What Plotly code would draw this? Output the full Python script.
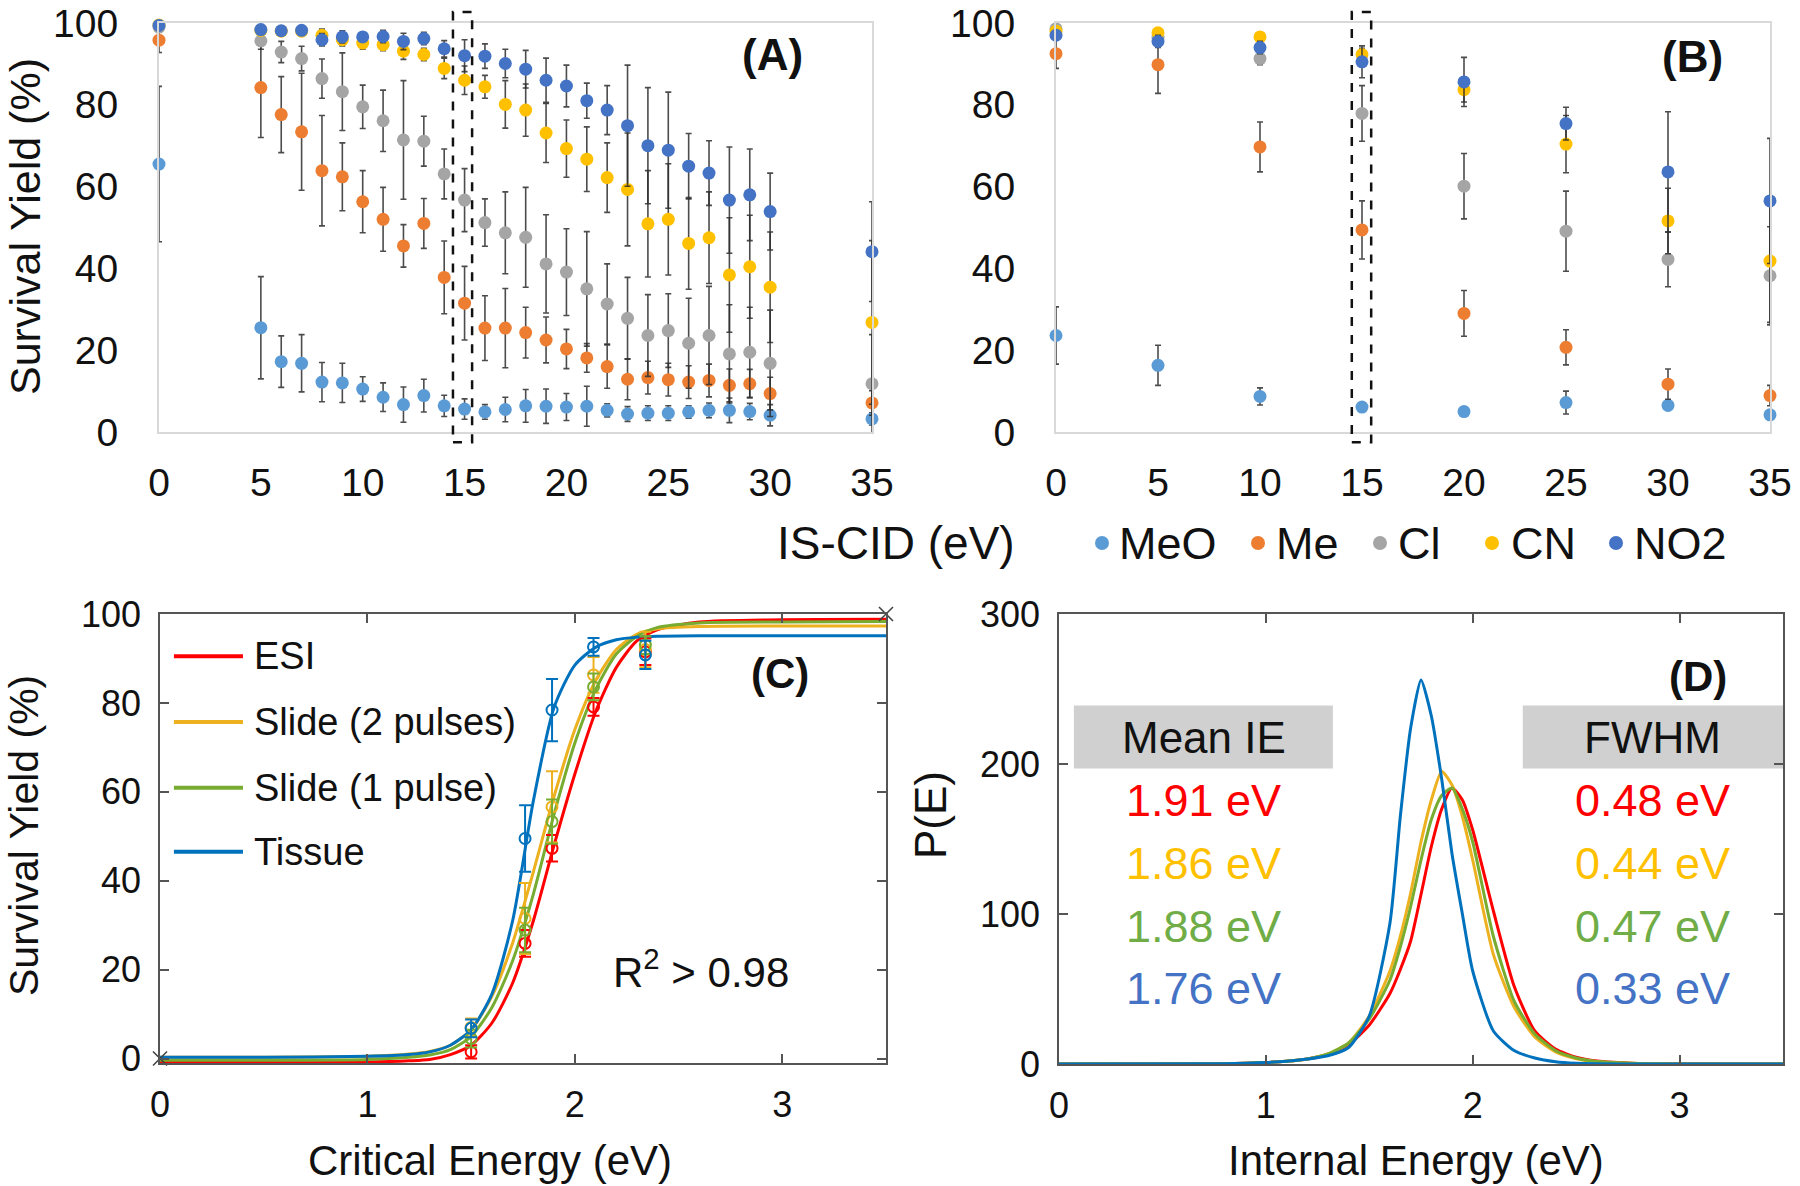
import plotly.graph_objects as go

# ---------------- Panel A data (IS-CID, survival yield %) ----------------
is_cid_a = [0, 5, 6, 7, 8, 9, 10, 11, 12, 13, 14, 15, 16, 17, 18, 19, 20,
            21, 22, 23, 24, 25, 26, 27, 28, 29, 30, 35]
meo_a = [65.5, 25.5, 17.2, 16.8, 12.2, 12.0, 10.5, 8.5, 6.7, 8.9, 6.4, 5.6, 4.9, 5.5, 6.4, 6.3, 6.1,
         6.3, 5.3, 4.4, 4.6, 4.6, 4.9, 5.3, 5.3, 5.0, 4.1, 3.2]
meo_a_err = [19, 12.5, 6.3, 7, 4.8, 4.8, 3, 3.5, 4.3, 4, 2.6, 2.5, 1.8, 3, 4, 4.2, 3.3,
             4.9, 1.6, 1.8, 1.8, 1.8, 1.5, 1.8, 3, 2, 2.6, 1.5]
me_a = [95.8, 84.2, 77.6, 73.4, 63.9, 62.4, 56.3, 52.0, 45.5, 51.0, 37.8, 31.5, 25.4, 25.4, 24.3, 22.5, 20.3,
        18.1, 16.0, 12.9, 13.3, 12.8, 12.2, 12.6, 11.4, 11.8, 9.4, 7.1]
me_a_err = [3, 12.2, 9.3, 14.3, 13.5, 8.3, 7.6, 7.8, 5.2, 6.1, 8.9, 9, 7.9, 9.7, 6.2, 5.6, 4.8,
            3.5, 5.3, 5, 4, 4, 4, 4, 4, 3.5, 4, 3]
cl_a = [99.0, 95.6, 92.9, 91.3, 86.4, 83.2, 79.5, 76.1, 71.4, 71.1, 63.1, 56.7, 51.2, 48.7, 47.6, 41.1, 39.1,
        35.0, 31.3, 27.8, 23.6, 24.8, 21.7, 23.6, 19.1, 19.5, 16.8, 11.8]
cl_a_err = [1, 2, 2.6, 3, 4.8, 9.5, 5.3, 7.5, 14.5, 6.1, 6.1, 7.7, 5.8, 10, 12.2, 12, 10.6,
            14, 9.8, 10, 10, 9, 11, 12, 12, 11, 13, 12]
cn_a = [99.5, 98.2, 98.0, 98.0, 97.0, 95.9, 95.1, 94.7, 93.1, 92.3, 88.9, 86.0, 84.4, 80.1, 78.7, 73.1, 69.3,
        66.7, 62.2, 59.3, 50.9, 52.0, 46.1, 47.5, 38.4, 40.4, 35.4, 26.8]
cn_a_err = [0.5, 1, 1, 1, 1.5, 1.5, 1.5, 1.5, 2, 1.5, 2.5, 3.5, 2.8, 5.8, 6.4, 7.2, 7,
            7.9, 8.5, 13.8, 13, 13.6, 11.2, 11.2, 14, 12.6, 13.5, 20]
no2_a = [99.4, 98.4, 98.1, 98.2, 95.9, 96.6, 96.6, 96.7, 95.5, 96.2, 93.7, 92.0, 91.9, 90.1, 88.7, 86.0, 84.6,
         81.0, 78.7, 74.9, 70.0, 68.9, 65.0, 63.3, 56.7, 58.0, 53.9, 44.1]
no2_a_err = [0.5, 1, 1, 1, 1.5, 1.5, 1, 1.5, 2, 1.5, 2, 3.9, 3, 3.5, 4.6, 5.4, 5.1,
             4.3, 6, 14.8, 14.2, 14.2, 8, 7.9, 13, 11.2, 9.4, 12.2]

# ---------------- Panel B data ----------------
is_cid_b = [0, 5, 10, 15, 20, 25, 30, 35]
meo_b = [23.6, 16.3, 8.7, 6.1, 5.0, 7.2, 6.5, 4.2]
meo_b_err = [7, 4.9, 2.1, 1, 0.5, 2.8, 1, 1]
me_b = [92.5, 89.8, 69.7, 49.4, 29.0, 20.7, 11.7, 8.9]
me_b_err = [3.6, 7, 6.1, 7.1, 5.6, 4.3, 3.7, 2.5]
cl_b = [98.6, 96.5, 91.3, 77.9, 60.1, 49.1, 42.2, 38.2]
cl_b_err = [1, 1.5, 1.5, 6.8, 8, 9.8, 6.7, 12]
cn_b = [98.0, 97.6, 96.6, 92.3, 83.7, 70.4, 51.6, 41.8]
cn_b_err = [1, 1, 1, 1.5, 3, 7, 8, 15]
no2_b = [97.0, 95.5, 94.0, 90.5, 85.6, 75.4, 63.6, 56.5]
no2_b_err = [1, 1.5, 1.5, 3.9, 6, 4, 14.7, 15.3]

series_ab = ["MeO", "Me", "Cl", "CN", "NO2"]
colors_ab = ["#5B9BD5", "#ED7D31", "#A5A5A5", "#FFC000", "#4472C4"]

# ---------------- Panel C data ----------------
crit_energy_pts = [1.50, 1.76, 1.89, 2.09, 2.34]
esi_pts = [1.5, 25.9, 47.3, 79.1, 91.5]
esi_err = [1.5, 3, 3, 2, 3]
slide2_pts = [7.0, 31.5, 56.6, 86.3, 92.0]
slide2_err = [2, 8, 8, 4, 4]
slide1_pts = [4.5, 28.9, 53.3, 83.6, 93.0]
slide1_err = [2, 5, 5, 3, 2]
tissue_pts = [6.8, 49.5, 78.4, 92.6, 90.8]
tissue_err = [2, 7.5, 7, 2, 3.2]

crit_energy_fit = [0, 0.5, 1.0, 1.2, 1.3, 1.4, 1.5, 1.6, 1.7, 1.8, 1.9, 2.0, 2.1, 2.2, 2.3, 2.4, 2.6, 3.0, 3.5]
esi_fit = [-0.9, -0.9, -0.8, -0.5, -0.2, 0.9, 3.0, 8.0, 17, 31, 48, 64, 78, 88, 94, 96.5, 98.2, 98.7, 98.8]
slide2_fit = [0.3, 0.3, 0.5, 1.0, 1.6, 3.0, 6.5, 14, 26, 42, 59, 74, 85, 92, 95.5, 96.7, 97.2, 97.3, 97.3]
slide1_fit = [-0.4, -0.4, -0.2, 0.3, 0.8, 2.0, 5.0, 11.5, 22, 37, 55, 71, 83, 91, 95, 97, 98, 98.2, 98.3]
tissue_fit = [0.3, 0.3, 0.5, 0.9, 1.5, 3.0, 6.5, 14.5, 31, 58, 79, 88.5, 92.5, 94.2, 94.8, 95, 95.1, 95.1, 95.1]
corner_x = [0, 3.5]
corner_y = [0, 100]

labels_c = ["ESI", "Slide (2 pulses)", "Slide (1 pulse)", "Tissue"]
colors_c = ["#FF0000", "#EDB120", "#77AC30", "#0072BD"]

# ---------------- Panel D data ----------------
internal_energy = [0, 0.8, 1.0, 1.1, 1.2, 1.3, 1.4, 1.5, 1.6, 1.65, 1.7, 1.75, 1.8, 1.85, 1.9, 1.95,
                   2.0, 2.1, 2.2, 2.3, 2.4, 2.5, 2.6, 2.8, 3.0, 3.5]
pe_esi = [0, 0.2, 1, 1.8, 3.3, 6.5, 13, 26, 47, 63, 82, 113, 145, 170, 184, 176,
          156, 102, 52, 22, 10, 4.5, 2, 0.4, 0.1, 0]
pe_slide2 = [0, 0.2, 1, 1.8, 3.3, 6.7, 14, 32, 62, 85, 114, 148, 176, 195, 186, 165,
             136, 73, 38, 18, 8, 3.5, 1.5, 0.3, 0, 0]
pe_slide1 = [0, 0.2, 1, 1.8, 3.3, 6.7, 14, 30, 56, 78, 105, 136, 163, 179, 184, 170,
             148, 85, 42, 20, 9, 4, 1.7, 0.3, 0, 0]
pe_tissue = [0, 0.2, 1, 1.8, 3.3, 5.5, 11, 32, 94, 165, 224, 256, 232, 190, 140, 100,
             62, 22, 9, 4, 1.5, 0.5, 0.2, 0, 0, 0]
mean_ie_labels = ["1.91 eV", "1.86 eV", "1.88 eV", "1.76 eV"]
fwhm_labels = ["0.48 eV", "0.44 eV", "0.47 eV", "0.33 eV"]
colors_d_text = ["#FF0000", "#FFC000", "#70AD47", "#4472C4"]
colors_d = ["#FF0000", "#EDB120", "#77AC30", "#0072BD"]

# ---------------- layout helpers ----------------
W, H = 1800, 1186
FONT = "Liberation Sans, Arial, Helvetica, sans-serif"


def dom_x(a, b):
    return [a / W, b / W]


def dom_y(top, bottom):
    return [1 - bottom / H, 1 - top / H]


fig = go.Figure()

# ---------------- Panels A & B ----------------
a_series = [(meo_a, meo_a_err), (me_a, me_a_err), (cl_a, cl_a_err), (cn_a, cn_a_err), (no2_a, no2_a_err)]
b_series = [(meo_b, meo_b_err), (me_b, me_b_err), (cl_b, cl_b_err), (cn_b, cn_b_err), (no2_b, no2_b_err)]
for (vals, err), name, col in zip(a_series, series_ab, colors_ab):
    fig.add_trace(go.Scatter(x=is_cid_a, y=vals, mode="markers", name=name, showlegend=False,
                             marker=dict(color=col, size=13),
                             error_y=dict(type="data", array=err, color="rgba(45,45,45,0.85)",
                                          thickness=1.6, width=3),
                             cliponaxis=False, xaxis="x", yaxis="y"))
for (vals, err), name, col in zip(b_series, series_ab, colors_ab):
    fig.add_trace(go.Scatter(x=is_cid_b, y=vals, mode="markers", name=name, showlegend=False,
                             marker=dict(color=col, size=13),
                             error_y=dict(type="data", array=err, color="rgba(45,45,45,0.85)",
                                          thickness=1.6, width=3),
                             cliponaxis=False, xaxis="x2", yaxis="y2"))

# ---------------- Panel C ----------------
c_fits = [esi_fit, slide2_fit, slide1_fit, tissue_fit]
c_pts = [(esi_pts, esi_err), (slide2_pts, slide2_err), (slide1_pts, slide1_err), (tissue_pts, tissue_err)]
for fit, lab, col in zip(c_fits, labels_c, colors_c):
    fig.add_trace(go.Scatter(x=crit_energy_fit, y=fit, mode="lines", name=lab, showlegend=False,
                             line=dict(color=col, width=3, shape="spline", smoothing=0.7),
                             cliponaxis=False, xaxis="x3", yaxis="y3"))
for (pts, err), lab, col in zip(c_pts, labels_c, colors_c):
    fig.add_trace(go.Scatter(x=crit_energy_pts, y=pts, mode="markers", name=lab, showlegend=False,
                             marker=dict(symbol="circle-open", size=11, color=col, line=dict(width=2, color=col)),
                             error_y=dict(type="data", array=err, color=col, thickness=2, width=6),
                             cliponaxis=False, xaxis="x3", yaxis="y3"))
fig.add_trace(go.Scatter(x=corner_x, y=corner_y, mode="markers", showlegend=False,
                         marker=dict(symbol="x-thin", size=14, line=dict(width=1.5, color="#404040")),
                         cliponaxis=False, xaxis="x3", yaxis="y3"))

# ---------------- Panel D ----------------
d_curves = [pe_esi, pe_slide2, pe_slide1, pe_tissue]
for curve, lab, col in zip(d_curves, labels_c, colors_d):
    fig.add_trace(go.Scatter(x=internal_energy, y=curve, mode="lines", name=lab, showlegend=False,
                             line=dict(color=col, width=3, shape="spline", smoothing=0.6),
                             cliponaxis=True, xaxis="x4", yaxis="y4"))

# ---------------- axes ----------------
ab_x = dict(range=[0, 35], tickvals=[0, 5, 10, 15, 20, 25, 30, 35], showline=True, linecolor="#D9D9D9",
            linewidth=2, mirror=True, ticks="", showgrid=False, zeroline=False, automargin=False,
            tickfont=dict(size=39, color="#111", family=FONT), ticklabelstandoff=15)
ab_y = dict(range=[0, 100], tickvals=[0, 20, 40, 60, 80, 100], showline=True, linecolor="#D9D9D9",
            linewidth=2, mirror=True, ticks="", showgrid=False, zeroline=False, automargin=False,
            tickfont=dict(size=39, color="#111", family=FONT), ticklabelstandoff=31)
cd_common = dict(showline=True, linecolor="#555555", linewidth=1.5, mirror="allticks", ticks="inside",
                 ticklen=9, tickwidth=1.5, tickcolor="#555555", showgrid=False, zeroline=False,
                 automargin=False, tickfont=dict(size=36, color="#111", family=FONT))

fig.update_layout(
    xaxis=dict(domain=dom_x(159, 872), anchor="y", **ab_x),
    yaxis=dict(domain=dom_y(23, 432), anchor="x", **ab_y),
    xaxis2=dict(domain=dom_x(1056, 1770), anchor="y2", **ab_x),
    yaxis2=dict(domain=dom_y(23, 432), anchor="x2", **ab_y),
    xaxis3=dict(domain=dom_x(160, 886), anchor="y3", range=[0, 3.5], tickvals=[0, 1, 2, 3],
                ticklabelstandoff=9, **cd_common),
    yaxis3=dict(domain=dom_y(614, 1063), anchor="x3", range=[-1, 100], tickvals=[0, 20, 40, 60, 80, 100],
                ticklabelstandoff=10, **cd_common),
    xaxis4=dict(domain=dom_x(1059, 1783), anchor="y4", range=[0, 3.5], tickvals=[0, 1, 2, 3],
                ticklabelstandoff=9, **cd_common),
    yaxis4=dict(domain=dom_y(614, 1064), anchor="x4", range=[0, 300], tickvals=[0, 100, 200, 300],
                ticklabelstandoff=10, **cd_common),
)

# ---------------- shapes ----------------
shapes = []
# dashed boxes around 15 eV
for xr, yr, x0, x1 in [("x domain", "y domain", 14.43, 15.37), ("x2 domain", "y2 domain", 14.5, 15.45)]:
    shapes.append(dict(type="rect", xref=xr, yref=yr, x0=x0 / 35, x1=x1 / 35, y0=-0.025, y1=1.027,
                       line=dict(color="#111", width=2.5, dash="dash"), fillcolor="rgba(0,0,0,0)"))
# gray boxes in panel D
for x0, x1 in [(0.072, 1.324), (2.242, 3.5)]:
    shapes.append(dict(type="rect", xref="x4", yref="y4", x0=x0, x1=x1, y0=197, y1=239,
                       line=dict(width=0), fillcolor="#D0D0D0", layer="below"))
# panel C legend line samples
legend_c_y = [90.5, 75.7, 60.9, 46.5]
for yy, col in zip(legend_c_y, colors_c):
    shapes.append(dict(type="line", xref="x3", yref="y3", x0=0.067, x1=0.40, y0=yy, y1=yy,
                       line=dict(color=col, width=4)))
# legend markers for A/B
legend_ab_x = [1102, 1258, 1380, 1492, 1616]
legend_ab_y = 543
for cx, col in zip(legend_ab_x, colors_ab):
    r = 7
    shapes.append(dict(type="circle", xref="paper", yref="paper",
                       x0=(cx - r) / W, x1=(cx + r) / W, y0=1 - (legend_ab_y + r) / H, y1=1 - (legend_ab_y - r) / H,
                       line=dict(width=0), fillcolor=col))
fig.update_layout(shapes=shapes)

# ---------------- annotations ----------------
ann = []


def txt(text, x, y, xref, yref, size, color="#111", bold=False, xanchor="center", yanchor="middle", angle=0):
    ann.append(dict(text=f"<b>{text}</b>" if bold else text, x=x, y=y, xref=xref, yref=yref,
                    showarrow=False, xanchor=xanchor, yanchor=yanchor, textangle=angle,
                    font=dict(size=size, color=color, family=FONT)))


# axis titles
txt("Survival Yield (%)", 25 / W, 1 - 227 / H, "paper", "paper", 43, angle=-90)
txt("IS-CID (eV)", 896 / W, 1 - 543 / H, "paper", "paper", 46)
legend_ab_text_x = [1117, 1274, 1396, 1509, 1632]
for tx, name in zip(legend_ab_text_x, series_ab):
    txt(name, tx / W, 1 - 543 / H, "paper", "paper", 45, xanchor="left")
txt("(A)", 30.1, 92.2, "x", "y", 44, bold=True)
txt("(B)", 31.2, 91.9, "x2", "y2", 44, bold=True)

txt("Survival Yield (%)", 24 / W, 1 - 836 / H, "paper", "paper", 41, angle=-90)
txt("Critical Energy (eV)", 490 / W, 1 - 1160 / H, "paper", "paper", 42)
txt("P(E)", 930 / W, 1 - 815 / H, "paper", "paper", 44, angle=-90)
txt("Internal Energy (eV)", 1416 / W, 1 - 1160 / H, "paper", "paper", 42)

txt("(C)", 2.99, 86.7, "x3", "y3", 42, bold=True)
txt("R<sup>2</sup> > 0.98", 2.61, 20.1, "x3", "y3", 42)
for yy, lab in zip(legend_c_y, labels_c):
    txt(lab, 0.443, yy, "x3", "y3", 38, xanchor="left")

txt("(D)", 3.09, 258.5, "x4", "y4", 42, bold=True)
txt("Mean IE", 0.70, 218, "x4", "y4", 44)
txt("FWHM", 2.87, 218, "x4", "y4", 44)
row_y = [175.7, 134, 92, 50.4]
for yy, m, f, col in zip(row_y, mean_ie_labels, fwhm_labels, colors_d_text):
    txt(m, 0.70, yy, "x4", "y4", 45, color=col)
    txt(f, 2.87, yy, "x4", "y4", 45, color=col)

fig.update_layout(annotations=ann, width=W, height=H, autosize=False,
                  margin=dict(l=0, r=0, t=0, b=0, autoexpand=False), paper_bgcolor="white",
                  plot_bgcolor="white", font=dict(family=FONT), showlegend=False)

fig.write_html("out.html", config={"displayModeBar": False},
               post_script="document.body.style.margin='0px';document.body.style.overflow='hidden';")
